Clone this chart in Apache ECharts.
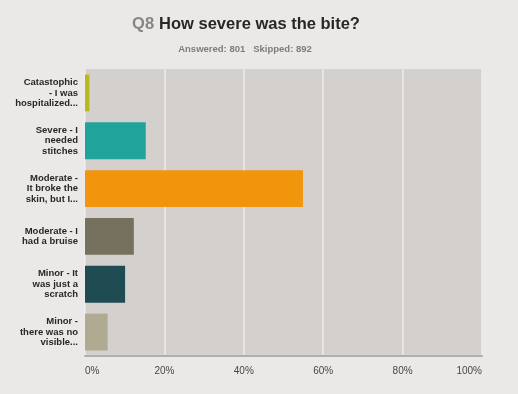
<!DOCTYPE html>
<html><head><meta charset="utf-8">
<script src="https://cdn.jsdelivr.net/npm/echarts@6/dist/echarts.min.js"></script>
<style>html,body{margin:0;padding:0;background:#ebe9e7;}#c{width:518px;height:394px;}</style>
</head><body><div id="c"></div>
<script>
const categories = [
  "Catastophic\n- I was\nhospitalized...",
  "Severe - I\nneeded\nstitches",
  "Moderate -\nIt broke the\nskin, but I...",
  "Moderate - I\nhad a bruise",
  "Minor - It\nwas just a\nscratch",
  "Minor -\nthere was no\nvisible..."
];
const values = [1.1, 15.3, 54.9, 12.3, 10.1, 5.7];
const barColors = ["#b5bb1f", "#1fa39a", "#f0950c", "#76715f", "#1f4b53", "#b1aa93"];
const tickValues = [0, 20, 40, 60, 80, 100];

const chart = echarts.init(document.getElementById('c'));
chart.setOption({
  backgroundColor: '#ebe9e7',
  animation: false,
  title: [{
    text: '{q|Q8} {m|How severe was the bite?}',
    left: 241, top: 10, textAlign: 'center',
    textStyle: { rich: {
      q: { color: '#8a8482', fontSize: 16.5, fontWeight: 'bold', fontFamily: 'Liberation Sans' },
      m: { color: '#2b2626', fontSize: 16.5, fontWeight: 'bold', fontFamily: 'Liberation Sans' }
    } }
  }, {
    text: 'Answered: 801   Skipped: 892',
    left: 240, top: 39, textAlign: 'center',
    textStyle: { color: '#807b78', fontSize: 9.5, fontWeight: 'bold', fontFamily: 'Liberation Sans' }
  }],
  grid: { left: 85, right: 36, top: 69, bottom: 38, show: true, backgroundColor: '#d3d0cd', borderWidth: 0 },
  xAxis: {
    type: 'value', min: 0, max: 100, interval: 20,
    axisLabel: { formatter: v => tickValues.includes(v) ? v + '%' : '', color: '#4a4544', fontSize: 10, fontFamily: 'Liberation Sans', margin: 10, alignMinLabel: 'left', alignMaxLabel: 'right' },
    splitLine: { show: true, lineStyle: { color: '#eeecea', width: 1.5 } },
    axisLine: { show: true, lineStyle: { color: '#b3afab', width: 2 } },
    axisTick: { show: false }
  },
  yAxis: {
    type: 'category', data: categories, inverse: true,
    axisLabel: { color: '#2b2626', fontSize: 9.5, fontWeight: 'bold', fontFamily: 'Liberation Sans', lineHeight: 10.5, align: 'right', margin: 7 },
    axisLine: { show: false }, axisTick: { show: false }
  },
  series: [{
    type: 'bar', barCategoryGap: '23%',
    data: values.map((v, i) => ({ value: v, itemStyle: { color: barColors[i] } }))
  }]
});
</script></body></html>
